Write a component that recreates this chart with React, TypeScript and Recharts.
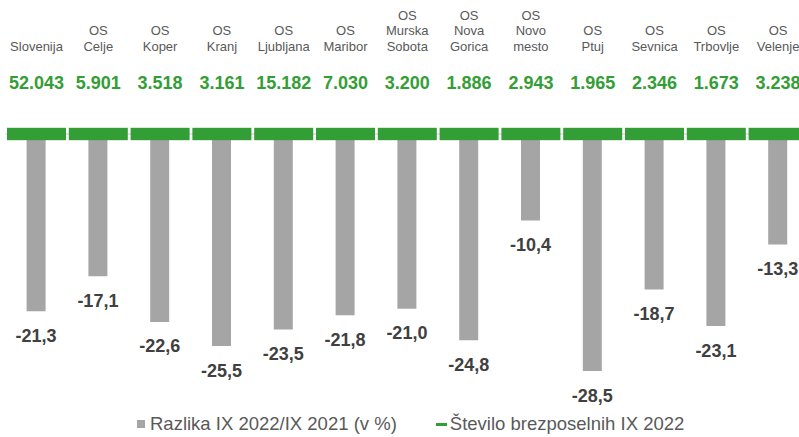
import React from "react";
import { ComposedChart, Bar, Line, XAxis, YAxis, LabelList, ReferenceLine, Legend } from "recharts";

const kategorije = [
  "Slovenija",
  "OS Celje",
  "OS Koper",
  "OS Kranj",
  "OS Ljubljana",
  "OS Maribor",
  "OS Murska Sobota",
  "OS Nova Gorica",
  "OS Novo mesto",
  "OS Ptuj",
  "OS Sevnica",
  "OS Trbovlje",
  "OS Velenje",
];
const razlika = [-21.3, -17.1, -22.6, -25.5, -23.5, -21.8, -21.0, -24.8, -10.4, -28.5, -18.7, -23.1, -13.3];
const stevilo = [52043, 5901, 3518, 3161, 15182, 7030, 3200, 1886, 2943, 1965, 2346, 1673, 3238];

const imeRazlika = "Razlika IX 2022/IX 2021 (v %)";
const imeStevilo = "Število brezposelnih IX 2022";

const data = kategorije.map((k, i) => ({ kategorija: k, razlika: razlika[i], stevilo: stevilo[i] }));

const FONT = "'Liberation Sans', Arial, sans-serif";
const GREEN = "#339e35";
const GRAY = "#a5a5a5";

const fmtThousands = (n: number) => String(n).replace(/\B(?=(\d{3})+(?!\d))/g, ".");
const fmtPct = (n: number) => n.toFixed(1).replace(".", ",");

const CategoryLabel = (props: any) => {
  const { x, y, value } = props;
  const lines = String(value).split(" ");
  const n = lines.length;
  return (
    <text textAnchor="middle" fontFamily={FONT} fontSize={13} fill="#595959">
      {lines.map((l, i) => (
        <tspan key={i} x={x} y={y - 88 - (n - 1 - i) * 15.5} dominantBaseline="central">
          {l}
        </tspan>
      ))}
    </text>
  );
};

const CountLabel = (props: any) => {
  const { x, y, value } = props;
  return (
    <text x={x} y={y - 51} textAnchor="middle" dominantBaseline="central" fontFamily={FONT} fontSize={18} fontWeight="bold" fill={GREEN}>
      {fmtThousands(Number(value))}
    </text>
  );
};

const PctLabel = (props: any) => {
  const { x, y, width, height, value } = props;
  const bottom = Math.max(y, y + height);
  return (
    <text x={x + width / 2} y={bottom + 24.5} textAnchor="middle" dominantBaseline="central" fontFamily={FONT} fontSize={18} fontWeight="bold" fill="#404040">
      {fmtPct(Number(value))}
    </text>
  );
};

const GreenMarker = (props: any) => {
  const { cx, cy, index } = props;
  if (cx == null || cy == null) return <g key={`m-${index}`} />;
  return <rect key={`m-${index}`} x={cx - 29.5} y={cy - 6.2} width={59} height={12.4} fill={GREEN} />;
};

const LegendContent = (props: any) => {
  const payload = props.payload || [];
  return (
    <div style={{ display: "flex", alignItems: "center", fontFamily: FONT, fontSize: 18.5, lineHeight: "20px", color: "#595959", whiteSpace: "nowrap" }}>
      {payload.map((p: any, i: number) => (
        <React.Fragment key={i}>
          {p.type === "square" ? (
            <span style={{ display: "inline-block", width: 8, height: 8, background: GRAY, marginRight: 5 }} />
          ) : (
            <span style={{ display: "inline-block", width: 11, height: 3, background: GREEN, marginLeft: 39, marginRight: 3 }} />
          )}
          <span>{p.value}</span>
        </React.Fragment>
      ))}
    </div>
  );
};

export default function App() {
  return (
    <div style={{ position: "absolute", left: 0, top: 0, width: 799, height: 437, overflow: "hidden", background: "#fff" }}>
      <ComposedChart width={809} height={437} data={data} margin={{ top: 134, right: 0, bottom: 53.5, left: 5.6 }}>
        <XAxis dataKey="kategorija" hide />
        <YAxis hide domain={[-30, 0]} />
        <ReferenceLine y={0} stroke="#d9d9d9" strokeWidth={1.5} ifOverflow="extendDomain" />
        <Bar dataKey="razlika" name={imeRazlika} fill={GRAY} barSize={19} isAnimationActive={false} legendType="square">
          <LabelList dataKey="razlika" content={PctLabel} />
        </Bar>
        <Line
          dataKey={() => 0}
          name={imeStevilo}
          stroke="none"
          strokeWidth={0}
          dot={GreenMarker}
          activeDot={false}
          isAnimationActive={false}
          legendType="line"
        >
          <LabelList dataKey="stevilo" content={CountLabel} />
          <LabelList dataKey="kategorija" content={CategoryLabel} />
        </Line>
        <Legend
          layout="horizontal"
          verticalAlign="middle"
          align="center"
          content={LegendContent}
          wrapperStyle={{ top: 414, left: 137, width: "auto" }}
        />
      </ComposedChart>
    </div>
  );
}
